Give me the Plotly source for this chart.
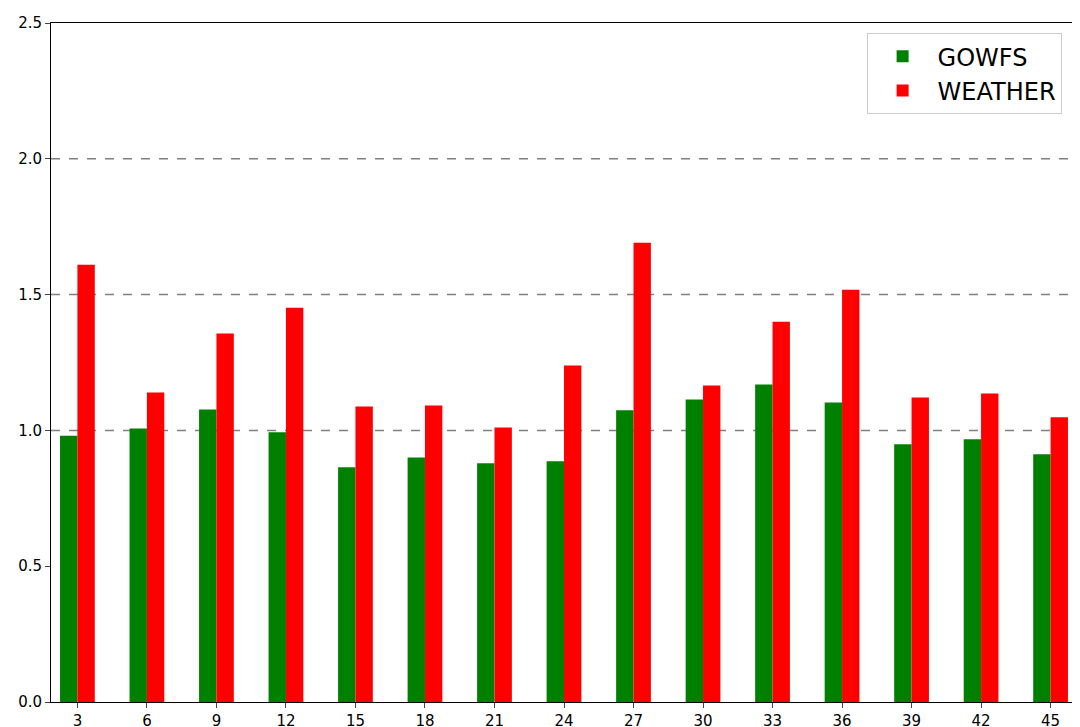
import plotly.graph_objects as go

categories = ["3","6","9","12","15","18","21","24","27","30","33","36","39","42","45"]
gowfs = [0.98,1.007,1.077,0.993,0.864,0.90,0.879,0.886,1.074,1.114,1.169,1.103,0.949,0.967,0.912]
weather = [1.61,1.14,1.357,1.452,1.088,1.092,1.011,1.239,1.691,1.165,1.40,1.518,1.121,1.136,1.048]

x = list(range(len(categories)))
fig = go.Figure()
fig.add_bar(x=x, y=gowfs, name="GOWFS", marker=dict(color="green", line=dict(width=0)), width=0.25, offset=-0.25)
fig.add_bar(x=x, y=weather, name="WEATHER", marker=dict(color="red", line=dict(width=0)), width=0.25, offset=0)
fig.update_layout(
    width=1080, height=727, margin=dict(l=43, r=11, t=15, b=33, autoexpand=False),
    plot_bgcolor="white", paper_bgcolor="white", barmode="overlay",
    font=dict(family="DejaVu Sans", size=15, color="black"),
    legend=dict(x=0.985, y=0.985, xanchor="right", yanchor="top", font=dict(size=24),
                bordercolor="#cccccc", borderwidth=1, bgcolor="rgba(255,255,255,0.8)",
                itemsizing="constant", itemwidth=60),
)
fig.update_xaxes(tickmode="array", tickvals=x, ticktext=categories, range=[-0.38, 14.38],
                 showline=True, linecolor="black", mirror=True, ticks="outside", showgrid=False,
                 automargin=False)
fig.update_yaxes(range=[0, 2.5], tickvals=[0,0.5,1,1.5,2,2.5], tickformat=".1f",
                 showline=True, linecolor="black", mirror=True, ticks="outside",
                 showgrid=False, zeroline=False, automargin=False)
for v in [1.0, 1.5, 2.0]:
    fig.add_hline(y=v, line=dict(color="gray", dash="dash", width=1.5), layer="below")
fig.write_html("out.html")
